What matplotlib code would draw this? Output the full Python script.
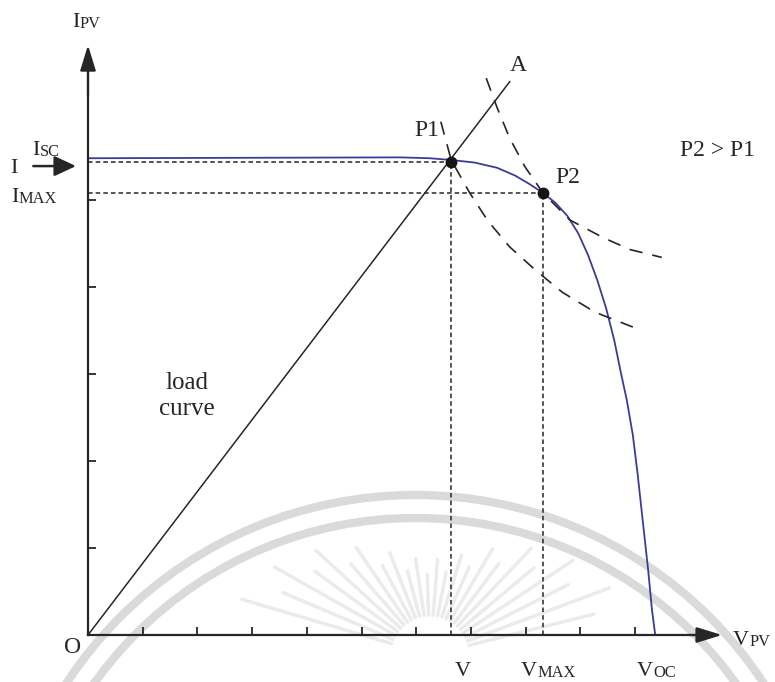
import numpy as np
import matplotlib.pyplot as plt
from matplotlib.patches import Arc

plt.rcParams['font.family'] = ['Liberation Serif', 'DejaVu Serif']

ink = '#262626'
blue = '#3b3c98'

# I-V characteristic of the PV array (voltage, current)
pv_v = [0.0, 5.70, 6.25, 6.64, 7.07, 7.48, 7.81, 8.08, 8.32, 8.54, 8.76, 8.96,
        9.14, 9.31, 9.47, 9.62, 9.74, 9.85, 9.96, 10.05, 10.14, 10.24, 10.31, 10.37]
pv_i = [5.48, 5.49, 5.48, 5.46, 5.43, 5.37, 5.28, 5.18, 5.08, 4.97, 4.82, 4.62,
        4.37, 4.08, 3.76, 3.39, 3.02, 2.70, 2.30, 1.84, 1.32, 0.75, 0.29, 0.00]

# constant power curves through P1 and P2
pow1_v = [6.45, 6.64, 6.98, 7.31, 7.71, 8.17, 8.67, 9.27, 9.96]
pow1_i = [5.90, 5.46, 5.08, 4.76, 4.46, 4.20, 3.94, 3.71, 3.54]
pow2_v = [7.28, 7.48, 7.71, 7.99, 8.32, 8.81, 9.41, 9.91, 10.49]
pow2_i = [6.40, 6.06, 5.71, 5.38, 5.08, 4.77, 4.57, 4.43, 4.34]

# operating points
p1 = (6.64, 5.44)
p2 = (8.32, 5.08)
load_end = (7.71, 6.36)

fig = plt.figure(figsize=(7.75, 6.82), dpi=100)

# faint watermark behind the drawing (pixel coordinates)
wm = fig.add_axes([0, 0, 1, 1], zorder=0)
wm.set_xlim(0, 775)
wm.set_ylim(682, 0)
wm.axis('off')
for r in (417, 394):
    wm.add_patch(Arc((415, 912), 2 * r, 2 * r, theta1=180, theta2=360,
                     color='#dadada', lw=6))
for k, ang in enumerate(np.arange(14, 170, 6.5)):
    a = np.radians(ang)
    r0 = 40
    r1 = (95 + 110 * np.cos(a) ** 2) * (1.0 if k % 2 else 0.85)
    wm.plot([430 + r0 * np.cos(a), 430 + r1 * np.cos(a)],
            [655 - r0 * np.sin(a), 655 - r1 * np.sin(a)],
            color='#ebebeb', lw=2.5, solid_capstyle='round')

ax = fig.add_axes([0, 0, 1, 1], zorder=1)
ax.patch.set_visible(False)
ax.set_xlim(-88 / 54.7, 687 / 54.7)
ax.set_ylim(-47 / 87, 635 / 87)

for s in ('top', 'right'):
    ax.spines[s].set_visible(False)
ax.spines['left'].set_position(('data', 0))
ax.spines['bottom'].set_position(('data', 0))
ax.spines['left'].set_bounds(0, 6.5)
ax.spines['bottom'].set_bounds(0, 11.3)
for s in ('left', 'bottom'):
    ax.spines[s].set_linewidth(1.6)
    ax.spines[s].set_color(ink)
ax.set_xticks(range(1, 11))
ax.set_yticks(range(1, 6))
ax.tick_params(direction='in', length=6, width=1.3, color=ink,
               labelbottom=False, labelleft=False)

arrow = dict(arrowstyle='-|>,head_length=0.65,head_width=0.2', color=ink,
             lw=1.6, mutation_scale=24, shrinkA=0, shrinkB=0)
ax.annotate('', xy=(0, 6.78), xytext=(0, 6.2), arrowprops=arrow)
ax.annotate('', xy=(11.59, 0), xytext=(11.0, 0), arrowprops=arrow)
ax.annotate('', xy=(-0.22, 5.39), xytext=(-1.0, 5.39),
            arrowprops=dict(arrowstyle='-|>,head_length=0.6,head_width=0.28',
                            color=ink, lw=1.8, mutation_scale=22,
                            shrinkA=0, shrinkB=0))

# load line O-A and PV curve
ax.plot([0, load_end[0]], [0, load_end[1]], color=ink, lw=1.1)
ax.plot(pv_v, pv_i, color=blue, lw=1.3)

# power curves
for vv, ii in ((pow1_v, pow1_i), (pow2_v, pow2_i)):
    ax.plot(vv, ii, color=ink, lw=1.2, dashes=(8, 6))

# projections of the operating points
short = dict(color=ink, lw=1.1, dashes=(3, 2))
ax.plot([0, p1[0]], [p1[1], p1[1]], **short)
ax.plot([p1[0], p1[0]], [0, p1[1]], **short)
ax.plot([0, p2[0]], [p2[1], p2[1]], **short)
ax.plot([p2[0], p2[0]], [0, p2[1]], **short)

ax.plot(*zip(p1, p2), ls='none', marker='o', ms=7.5, color='#151515', zorder=5)


def smallcaps(x, y, big, small, size=16, ratio=0.74, ha='left'):
    t = ax.text(x, y, big, fontsize=size, va='baseline', ha=ha, color=ink)
    if small:
        ax.annotate(small, xy=(1, 0), xycoords=t, fontsize=size * ratio,
                    va='bottom', ha='left', color=ink)


fs = 17
ax.text(7.86, 6.55, 'A', fontsize=fs, ha='center', va='center', color=ink)
ax.text(6.20, 5.80, 'P1', fontsize=fs, ha='center', va='center', color=ink)
ax.text(8.78, 5.26, 'P2', fontsize=fs, ha='center', va='center', color=ink)
ax.text(11.50, 5.57, 'P2 > P1', fontsize=fs, ha='center', va='center', color=ink)
ax.text(1.81, 2.75, 'load\ncurve', fontsize=18, ha='center', va='center',
        linespacing=1.25, color=ink)
ax.text(-0.29, -0.14, 'O', fontsize=17, ha='center', va='center', color=ink)

smallcaps(-0.29, 6.99, 'I', 'PV')
smallcaps(-1.02, 5.52, 'I', 'SC')
smallcaps(-1.43, 5.31, 'I', '')
smallcaps(-1.41, 4.98, 'I', 'MAX')
ax.text(6.86, -0.47, 'V', fontsize=16, ha='center', va='baseline', color=ink)
smallcaps(7.92, -0.47, 'V', 'MAX')
smallcaps(10.04, -0.47, 'V', 'OC')
smallcaps(11.79, -0.11, 'V', 'PV')

fig.savefig('out.png', dpi=100)
